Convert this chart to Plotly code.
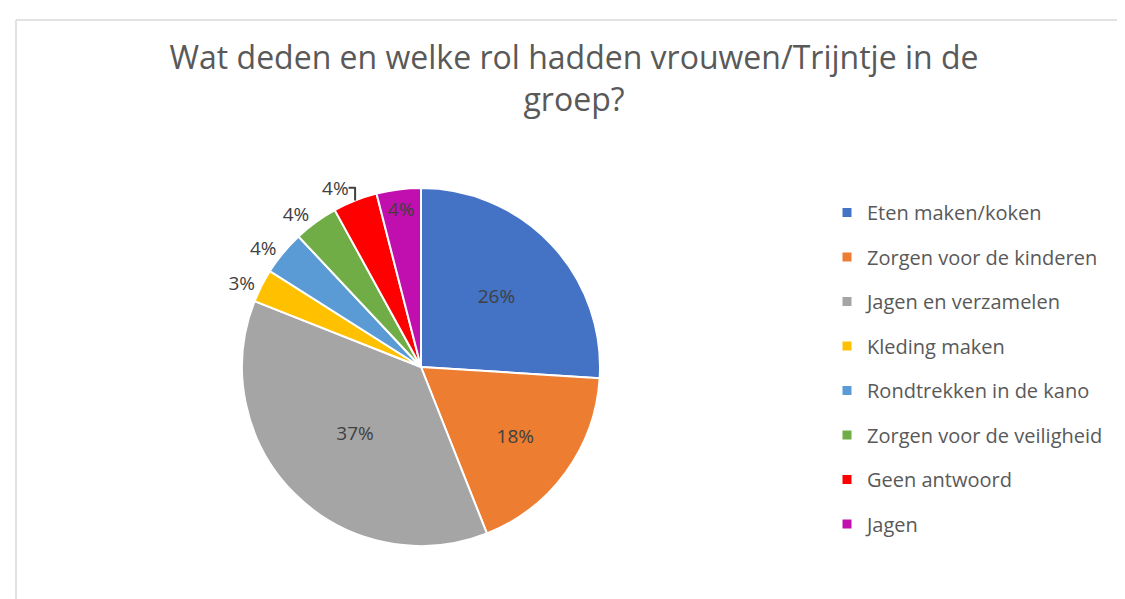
import plotly.graph_objects as go

categories = ["Eten maken/koken", "Zorgen voor de kinderen", "Jagen en verzamelen",
              "Kleding maken", "Rondtrekken in de kano", "Zorgen voor de veiligheid",
              "Geen antwoord", "Jagen"]
values = [26, 18, 37, 3, 4, 4, 4, 4]
colors = ["#4472C4", "#ED7D31", "#A5A5A5", "#FFC000", "#5B9BD5", "#70AD47", "#FF0000", "#C00FAE"]
text_pos = ["inside", "inside", "inside", "outside", "outside", "outside", "outside", "inside"]
title = "Wat deden en welke rol hadden vrouwen/Trijntje in de<br>groep?"

W, H = 1125, 599
FONT = "Open Sans"
cx, cy, r = 413, 359, 179

fig = go.Figure()
fig.add_trace(go.Pie(
    labels=categories, values=values, sort=False, direction="clockwise", rotation=0,
    marker=dict(colors=colors, line=dict(color="white", width=2)),
    texttemplate="%{percent:.0%}", textposition=text_pos,
    textfont=dict(family=FONT, size=19, color="#404040"),
    insidetextorientation="horizontal",
    showlegend=False, hoverinfo="label+percent",
    domain=dict(x=[(cx - r) / W, (cx + r) / W], y=[1 - (cy + r) / H, 1 - (cy - r) / H]),
))
for i, (c, col) in enumerate(zip(categories, colors)):
    fig.add_trace(go.Scatter(
        x=[None], y=[None], mode="markers", name=c, legendgroup=str(i),
        marker=dict(symbol="square", size=9, color=col),
    ))

fig.update_layout(
    width=W, height=H,
    margin=dict(l=0, r=0, t=0, b=0),
    paper_bgcolor="white", plot_bgcolor="white",
    xaxis=dict(visible=False), yaxis=dict(visible=False),
    title=dict(text=title, x=566 / W, xanchor="center", y=1 - 61 / H, yanchor="top",
               font=dict(family=FONT, size=32, color="#595959")),
    legend=dict(x=819 / W, xanchor="left", y=1 - 185 / H, yanchor="top",
                font=dict(family=FONT, size=20, color="#595959"),
                tracegroupgap=15.5, itemclick=False),
    shapes=[
        dict(type="line", xref="paper", yref="paper", x0=8 / W, x1=1.0, y0=1 - 12 / H, y1=1 - 12 / H,
             line=dict(color="#D9D9D9", width=1.5)),
        dict(type="line", xref="paper", yref="paper", x0=8 / W, x1=8 / W, y0=0, y1=1 - 12 / H,
             line=dict(color="#D9D9D9", width=1.5)),
    ],
)
fig.write_html("out.html")
